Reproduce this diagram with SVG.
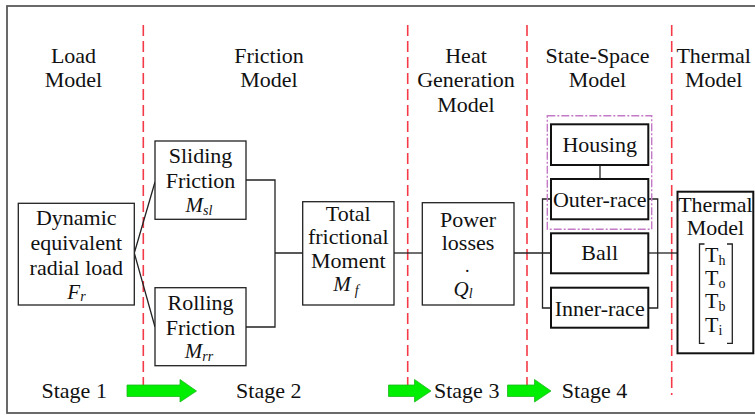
<svg xmlns="http://www.w3.org/2000/svg" width="755" height="415" viewBox="0 0 755 415" font-family="Liberation Serif" font-size="22">
<style>
text{fill:#111;text-anchor:middle}
.it{font-style:italic;font-size:21px}
.sub{font-size:14px}
.dot{font-size:18px}
.box{fill:#fff;stroke:#222;stroke-width:1.3}
.sbox{fill:#fff;stroke:#111;stroke-width:2}
.conn{fill:none;stroke:#222;stroke-width:1.3}
.sep{stroke:#f43a48;stroke-width:1.6;stroke-dasharray:11 5;fill:none}
.grp{fill:none;stroke:#c47ac6;stroke-width:1.4;stroke-dasharray:8 2 2 2}
.garrow{fill:#00ee00;stroke:#1fb81f;stroke-width:0.8}
</style>
<rect x="7" y="6" width="760" height="407" fill="#fff" stroke="#5a5a5a" stroke-width="1.8"/>
<g id="separators">
<line class="sep" x1="143.3" y1="25" x2="143.3" y2="395"/>
<line class="sep" x1="407.7" y1="25" x2="407.7" y2="395"/>
<line class="sep" x1="527" y1="25" x2="527" y2="395"/>
<line class="sep" x1="671.7" y1="25" x2="671.7" y2="395"/>
</g>
<g id="titles" font-family="Liberation Serif">
<text x="73.5" y="62.7">Load</text>
<text x="73.5" y="87.3">Model</text>
<text x="269" y="62.7">Friction</text>
<text x="269" y="87.3">Model</text>
<text x="466" y="62.7">Heat</text>
<text x="466" y="87.3">Generation</text>
<text x="466" y="112">Model</text>
<text x="597.5" y="62.7">State-Space</text>
<text x="597.5" y="87.3">Model</text>
<text x="713.7" y="62.7">Thermal</text>
<text x="713.7" y="87.3">Model</text>
</g>
<g id="connectors">
<path class="conn" d="M155,182 L134.3,253 L155,327"/>
<path class="conn" d="M246,180 H275 V327 H246 M275,253 H303"/>
<path class="conn" d="M394,253 H422.3"/>
<path class="conn" d="M514,253 H551"/>
<path class="conn" d="M600,165 V179"/>
<path class="conn" d="M551,199 H542.5 V308 H551"/>
<path class="conn" d="M648.3,199 H657.7 V308 H648.3"/>
<path class="conn" d="M648.3,253 H677.5"/>
</g>
<g id="dynamic-load" font-family="Liberation Serif">
<rect class="box" x="18.3" y="203.3" width="116" height="101.7"/>
<text x="76.3" y="225">Dynamic</text>
<text x="76.3" y="250">equivalent</text>
<text x="76.3" y="275">radial load</text>
<text x="76.5" y="299" class="it">F<tspan class="sub" dy="2">r</tspan></text>
</g>
<g id="sliding-friction" font-family="Liberation Serif">
<rect class="box" x="155" y="141" width="91" height="78.3"/>
<text x="200.5" y="163">Sliding</text>
<text x="200.5" y="188">Friction</text>
<text x="199" y="211.5" class="it">M<tspan class="sub" dy="3">sl</tspan></text>
</g>
<g id="rolling-friction" font-family="Liberation Serif">
<rect class="box" x="155" y="287.7" width="91" height="78"/>
<text x="200.5" y="310">Rolling</text>
<text x="200.5" y="334.5">Friction</text>
<text x="199" y="357.5" class="it">M<tspan class="sub" dy="3">rr</tspan></text>
</g>
<g id="total-moment" font-family="Liberation Serif">
<rect class="box" x="302.7" y="201.7" width="91.3" height="103.3"/>
<text x="348.3" y="220.5">Total</text>
<text x="348.3" y="244">frictional</text>
<text x="348.3" y="267.5">Moment</text>
<text x="346" y="291" class="it">M<tspan class="sub" dx="4" dy="4">f</tspan></text>
</g>
<g id="power-losses" font-family="Liberation Serif">
<rect class="box" x="422.3" y="202.7" width="91.7" height="102.3"/>
<text x="468" y="226.5">Power</text>
<text x="468" y="250">losses</text>
<text x="467.3" y="271.5" class="dot">.</text>
<text x="463" y="295.5" class="it">Q<tspan class="sub" dy="2">l</tspan></text>
</g>
<g id="state-space">
<rect class="grp" x="547.3" y="115.7" width="104.4" height="113.6"/>
</g>
<g id="housing" font-family="Liberation Serif">
<rect class="sbox" x="551" y="124.3" width="97.3" height="40.7"/>
<text x="599.7" y="151.7">Housing</text>
</g>
<g id="outer-race" font-family="Liberation Serif">
<rect class="sbox" x="551" y="179" width="97.3" height="40.3"/>
<text x="599.7" y="206.7">Outer-race</text>
</g>
<g id="ball" font-family="Liberation Serif">
<rect class="sbox" x="551" y="233.3" width="97.3" height="40"/>
<text x="599.7" y="260">Ball</text>
</g>
<g id="inner-race" font-family="Liberation Serif">
<rect class="sbox" x="551" y="287.7" width="97.3" height="40"/>
<text x="599.7" y="315.7">Inner-race</text>
</g>
<g id="thermal-model" font-family="Liberation Serif">
<rect class="sbox" x="677.5" y="191.7" width="75.8" height="161.6"/>
<text x="715.4" y="211.7">Thermal</text>
<text x="715.4" y="235">Model</text>
<path class="conn" d="M704.5,244 H699.5 V343.3 H704.5 M727,244 H732.3 V343.3 H727"/>
<text x="705" y="262" style="text-anchor:start">T<tspan class="sub" dy="3">h</tspan></text>
<text x="705" y="285" style="text-anchor:start">T<tspan class="sub" dy="3">o</tspan></text>
<text x="705" y="308" style="text-anchor:start">T<tspan class="sub" dy="3">b</tspan></text>
<text x="705" y="331.5" style="text-anchor:start">T<tspan class="sub" dy="3">i</tspan></text>
</g>
<g id="stages" font-family="Liberation Serif">
<polygon class="garrow" points="127,385 180,385 180,379.5 196.5,391 180,402 180,396.5 127,396.5"/>
<polygon class="garrow" points="388.5,385 414.5,385 414.5,379.5 431,391 414.5,402 414.5,396.5 388.5,396.5"/>
<polygon class="garrow" points="507.5,385 534.5,385 534.5,379.5 551,391 534.5,402 534.5,396.5 507.5,396.5"/>
<text x="74.2" y="398.3">Stage 1</text>
<text x="268.8" y="398.3">Stage 2</text>
<text x="466.7" y="398.3">Stage 3</text>
<text x="594.5" y="398.3">Stage 4</text>
</g>
</svg>
